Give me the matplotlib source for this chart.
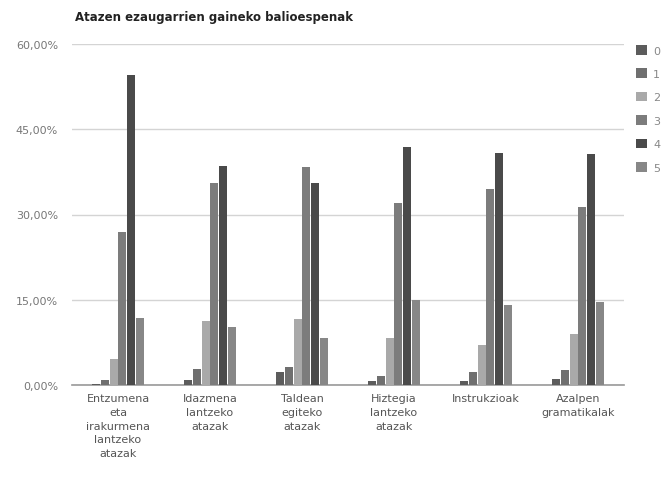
import matplotlib
matplotlib.use("Agg")
import matplotlib.pyplot as plt
import numpy as np
from matplotlib.ticker import FuncFormatter

categories = ["Entzumena\neta\nirakurmena\nlantzeko\natazak",
              "Idazmena\nlantzeko\natazak",
              "Taldean\negiteko\natazak",
              "Hiztegia\nlantzeko\natazak",
              "Instrukzioak",
              "Azalpen\ngramatikalak"]
series_names = ["0", "1", "2", "3", "4", "5"]

s0 = [0.2, 0.9, 2.2, 0.7, 0.7, 1.1]
s1 = [0.9, 2.9, 3.2, 1.6, 2.2, 2.6]
s2 = [4.5, 11.3, 11.7, 8.2, 7.0, 9.0]
s3 = [27.0, 35.5, 38.4, 32.0, 34.4, 31.3]
s4 = [54.5, 38.5, 35.5, 41.8, 40.9, 40.7]
s5 = [11.8, 10.2, 8.2, 14.9, 14.0, 14.6]
series = [s0, s1, s2, s3, s4, s5]

colors = ["#5c5c5c", "#6f6f6f", "#a9a9a9", "#7c7c7c", "#4a4a4a", "#878787"]

fig = plt.figure(figsize=(6.7, 4.85), dpi=100)
ax = fig.add_axes([72 / 670, 1 - 386 / 485, 552 / 670, 341 / 485])

x = np.arange(len(categories))
w = 0.094
for i, (name, vals) in enumerate(zip(series_names, series)):
    off = (i - 2.5) * w
    ax.bar(x + off, vals, width=w * 0.9, color=colors[i], label=name, zorder=3)

ax.set_xlim(-0.5, len(categories) - 0.5)
ax.set_ylim(0, 60)
ax.set_yticks([0, 15, 30, 45, 60])
ax.yaxis.set_major_formatter(FuncFormatter(lambda v, p: f"{v:.2f}%".replace(".", ",")))
ax.grid(axis="y", color="#d4d4d4", linewidth=1, zorder=0)
for s in ["top", "right", "left"]:
    ax.spines[s].set_visible(False)
ax.spines["bottom"].set_color("#999999")
ax.spines["bottom"].set_linewidth(1.2)
ax.tick_params(axis="y", length=0, labelsize=8, labelcolor="#777777", pad=10)
ax.tick_params(axis="x", length=0, labelsize=8, labelcolor="#555555", pad=6)
ax.set_xticks(x)
ax.set_xticklabels(categories, linespacing=1.45)

fig.text(75 / 670, 1 - 17 / 485, "Atazen ezaugarrien gaineko balioespenak",
         fontsize=8.5, fontweight="bold", color="#222222", va="center")

handles, labels = ax.get_legend_handles_labels()
fig.legend(handles, labels, loc="upper left", bbox_to_anchor=(636 / 670, 1 - 46 / 485),
           frameon=False, fontsize=8, labelcolor="#888888",
           handlelength=0.95, handleheight=0.95, handletextpad=0.6,
           labelspacing=1.15, borderaxespad=0, borderpad=0)

fig.savefig("out.png", dpi=100)
